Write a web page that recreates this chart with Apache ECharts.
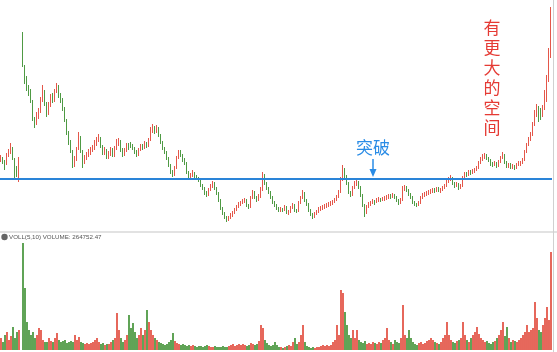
<!DOCTYPE html>
<html><head><meta charset="utf-8">
<script src="https://cdn.jsdelivr.net/npm/echarts@6/dist/echarts.min.js"></script>
<style>html,body{margin:0;padding:0;background:#fff}#c{width:557px;height:352px}</style>
</head><body><div id="c"></div>
<script>
const opens = [9.0,9.2,8.9,8.6,9.4,9.9,10.1,9.1,8.0,7.6,null,
19.3,18.4,17.0,16.0,15.9,14.8,13.0,12.7,13.4,13.9,
15.1,15.8,14.5,13.7,14.6,15.4,15.0,15.9,16.3,15.5,
15.0,14.1,12.9,11.7,10.9,9.9,8.6,9.1,10.1,11.2,
9.9,8.8,9.1,9.6,9.7,10.1,10.2,10.6,11.0,11.1,
10.3,9.8,10.0,9.3,9.5,10.1,9.5,10.1,10.6,10.9,
10.0,9.6,9.9,10.5,10.6,10.4,10.2,9.8,9.5,10.0,
10.4,10.2,10.7,10.4,11.0,11.9,12.2,11.8,12.2,11.5,
10.8,10.2,9.8,9.2,8.5,7.8,7.5,8.2,9.2,9.8,
9.5,9.0,8.7,7.8,7.2,7.4,7.7,7.4,7.2,7.0,
6.5,6.2,5.7,5.5,6.0,6.4,6.7,6.2,5.7,5.0,
4.2,3.7,3.3,3.0,3.2,3.5,3.7,4.0,4.3,4.6,
4.7,4.9,5.0,4.5,4.3,5.2,5.8,5.3,5.0,5.3,
6.0,7.4,6.7,6.2,5.8,5.3,4.8,4.5,4.2,4.0,
4.1,4.0,4.3,3.7,3.8,4.2,4.5,4.0,3.9,4.7,
5.2,5.7,5.0,4.6,4.0,3.6,3.3,3.6,3.8,4.1,
4.2,4.3,4.4,4.5,4.6,4.7,4.8,5.0,5.3,5.8,
7.0,8.0,7.4,6.7,5.8,5.5,6.2,6.7,6.8,6.3,
5.5,4.5,3.7,4.3,4.6,4.7,4.9,4.8,5.0,5.1,
5.0,5.1,5.2,5.3,5.4,5.3,5.5,5.3,5.0,4.7,
5.0,6.2,6.3,6.0,5.6,5.3,4.8,4.6,4.5,4.7,
5.2,5.5,5.6,5.7,5.8,5.9,6.0,5.9,6.1,5.9,
6.0,6.2,6.4,6.8,7.0,7.2,6.7,6.4,6.6,6.2,
6.4,7.2,7.6,7.5,7.8,7.7,7.9,8.0,8.2,8.7,
9.1,9.3,9.4,9.2,9.0,8.6,8.5,8.7,8.4,8.8,
9.2,9.5,8.8,8.4,8.5,8.3,8.4,8.2,8.5,8.6,
8.7,9.0,9.8,10.5,11.0,11.5,12.5,13.6,14.2,13.7,
13.5,14.2,15.0,17.0,19.5];
const closes = [9.2,8.8,8.5,9.5,9.8,10.2,9.2,8.0,7.8,9.0,null,
18.6,17.2,16.2,15.8,15.0,13.2,12.6,13.5,13.8,15.0,
16.0,14.7,13.6,14.5,15.3,15.0,15.8,16.4,15.4,15.0,
14.2,13.0,11.8,10.8,10.0,8.7,9.0,10.0,11.3,10.0,
8.7,9.2,9.5,9.8,10.0,10.2,10.7,11.0,11.2,10.4,
9.7,10.0,9.3,9.6,10.0,9.5,10.2,10.7,10.8,10.0,
9.5,10.0,10.5,10.2,10.4,10.2,9.8,9.5,10.0,10.4,
10.2,10.7,10.4,11.0,12.0,12.2,11.8,12.2,11.5,10.8,
10.2,9.8,9.2,8.5,7.8,7.5,8.2,9.2,9.8,9.5,
9.0,8.7,7.8,7.2,7.4,7.7,7.4,7.2,7.0,6.5,
6.2,5.7,5.5,6.0,6.4,6.7,6.2,5.7,5.0,4.2,
3.7,3.3,3.0,3.2,3.5,3.7,4.0,4.3,4.6,4.7,
4.9,5.0,4.5,4.3,5.2,5.8,5.3,5.0,5.3,6.0,
7.5,6.7,6.2,5.8,5.3,4.8,4.5,4.2,4.0,4.1,
4.0,4.3,3.8,3.8,4.2,4.5,4.0,3.9,4.7,5.2,
5.7,5.0,4.6,4.0,3.6,3.3,3.6,3.8,4.1,4.2,
4.3,4.4,4.5,4.6,4.7,4.8,5.0,5.3,5.8,7.0,
8.0,7.4,6.7,5.8,5.5,6.2,6.7,6.8,6.3,5.5,
4.5,3.7,4.3,4.6,4.7,4.9,4.8,5.0,5.1,5.0,
5.1,5.2,5.3,5.4,5.3,5.5,5.3,5.0,4.7,5.0,
6.2,6.3,6.0,5.6,5.3,4.8,4.6,4.5,4.7,5.2,
5.5,5.6,5.7,5.8,5.9,6.0,5.9,6.1,6.0,6.0,
6.2,6.4,6.8,7.0,7.2,6.7,6.4,6.6,6.2,6.4,
7.2,7.6,7.5,7.8,7.7,7.9,8.0,8.2,8.7,9.1,
9.3,9.4,9.2,9.0,8.6,8.5,8.7,8.4,8.8,9.2,
9.5,8.8,8.4,8.5,8.3,8.4,8.2,8.5,8.7,8.7,
9.0,9.8,10.5,11.0,11.5,12.5,13.5,14.2,13.7,13.5,
14.2,15.0,17.0,19.5,22.3];
const lows = [8.8,8.6,8.0,8.5,9.3,9.6,9.0,7.0,7.3,6.8,null,
18.3,16.6,15.9,15.4,14.7,12.9,12.2,12.5,13.1,13.7,
14.8,14.4,13.3,13.5,14.3,14.7,14.8,15.7,15.2,14.7,
13.9,12.8,11.5,10.5,9.7,8.2,8.3,8.9,10.0,9.7,
8.2,8.6,9.0,9.3,9.5,9.8,10.0,10.4,10.8,10.2,
9.5,9.5,9.1,9.1,9.4,9.3,9.3,10.0,10.4,9.8,
9.3,9.4,9.8,10.0,10.2,10.0,9.6,9.3,9.4,9.9,
10.0,10.1,10.2,10.3,10.9,11.7,11.6,11.7,11.3,10.6,
10.0,9.6,9.0,8.3,7.6,7.3,7.4,8.1,9.1,9.3,
8.8,8.5,7.6,7.0,7.0,7.3,7.2,7.0,6.8,6.3,
6.0,5.5,5.3,5.4,5.9,6.2,6.0,5.5,4.8,4.0,
3.5,3.1,2.8,2.9,3.1,3.3,3.6,3.9,4.2,4.4,
4.6,4.7,4.3,4.1,4.2,5.1,5.1,4.8,4.9,5.2,
5.9,6.5,6.0,5.6,5.1,4.6,4.3,4.0,3.8,3.8,
3.8,3.9,3.6,3.5,3.7,4.1,3.8,3.7,3.8,4.6,
5.1,4.8,4.4,3.8,3.4,3.1,3.2,3.5,3.7,3.9,
4.0,4.1,4.2,4.3,4.4,4.5,4.7,4.9,5.2,5.7,
6.9,7.2,6.5,5.6,5.3,5.4,6.1,6.4,6.1,5.3,
4.3,3.3,3.6,4.2,4.4,4.6,4.5,4.7,4.8,4.8,
4.9,4.9,5.0,5.1,5.1,5.2,5.1,4.8,4.5,4.6,
4.9,5.9,5.8,5.4,5.1,4.6,4.4,4.3,4.4,4.6,
5.1,5.3,5.4,5.5,5.6,5.7,5.7,5.8,5.8,5.7,
5.9,6.1,6.3,6.7,6.9,6.5,6.2,6.3,6.0,6.1,
6.3,7.1,7.3,7.4,7.5,7.6,7.7,7.9,8.1,8.6,
8.9,9.1,9.0,8.8,8.4,8.3,8.4,8.2,8.3,8.7,
9.1,8.6,8.2,8.2,8.1,8.1,8.0,8.1,8.4,8.4,
8.6,8.9,9.7,10.4,10.9,11.4,12.4,13.3,12.8,13.0,
13.3,14.0,14.8,16.8,19.2];
const highs = [9.5,9.3,9.0,9.7,10.1,10.7,10.3,9.2,8.4,9.3,null,
21.8,18.5,17.4,16.5,16.1,15.0,13.3,13.8,14.2,15.3,
16.5,16.0,14.8,14.8,15.6,15.7,16.1,16.7,16.5,15.7,
15.2,14.3,13.1,11.9,11.0,10.0,9.4,10.3,11.8,11.4,
10.0,9.5,9.8,10.1,10.3,10.5,11.0,11.3,11.6,11.3,
10.5,10.3,10.1,9.9,10.3,10.2,10.4,11.1,11.2,11.0,
10.2,10.2,10.7,10.7,10.8,10.6,10.3,10.0,10.2,10.6,
10.6,10.9,10.8,11.2,12.3,12.6,12.4,12.5,12.3,11.6,
10.9,10.3,9.9,9.3,8.6,8.0,8.4,9.4,10.0,10.0,
9.6,9.2,8.8,7.9,7.7,8.0,7.8,7.5,7.3,7.1,
6.6,6.3,5.9,6.2,6.6,6.9,6.8,6.3,5.8,5.1,
4.3,3.8,3.4,3.4,3.7,3.9,4.2,4.5,4.8,4.9,
5.1,5.2,5.1,4.6,5.4,6.0,5.9,5.4,5.6,6.3,
7.8,7.6,6.8,6.3,5.9,5.4,4.9,4.6,4.3,4.3,
4.2,4.5,4.4,4.0,4.4,4.7,4.6,4.1,4.9,5.4,
6.0,5.8,5.1,4.7,4.1,3.7,3.8,4.0,4.3,4.4,
4.5,4.6,4.7,4.8,4.9,5.0,5.2,5.5,6.0,7.3,
8.5,8.2,7.5,6.8,5.9,6.4,6.9,7.2,6.9,6.4,
5.6,4.6,4.5,4.8,4.9,5.1,5.0,5.2,5.3,5.2,
5.3,5.4,5.5,5.6,5.6,5.7,5.6,5.4,5.1,5.2,
6.4,6.5,6.4,6.1,5.7,5.4,4.9,4.7,4.9,5.4,
5.7,5.8,5.9,6.0,6.1,6.2,6.2,6.3,6.3,6.2,
6.4,6.6,7.0,7.3,7.5,7.3,6.8,6.8,6.7,6.6,
7.4,7.8,7.8,8.0,8.0,8.1,8.2,8.4,8.9,9.3,
9.6,9.7,9.6,9.3,9.1,8.8,8.9,8.8,9.0,9.4,
9.8,9.6,8.9,8.7,8.7,8.6,8.5,8.7,8.9,8.9,
9.2,10.0,10.7,11.3,11.8,12.8,14.0,14.6,14.4,14.2,
14.5,16.0,17.5,20.2,24.3];
const volumes = [12,8,15,18,10,14,23,12,18,20,null,
107,62,28,20,15,18,12,15,22,20,
10,8,8,12,9,8,12,17,10,8,
9,10,7,8,9,8,15,10,13,8,
7,6,7,6,7,8,10,12,8,6,
7,5,6,6,8,10,12,37,20,12,
8,10,15,35,22,27,18,12,15,22,
15,20,40,28,20,15,12,10,8,7,
6,5,6,8,10,17,9,7,6,5,
6,5,4,5,4,5,4,3,4,4,
3,4,5,4,3,3,4,3,3,3,
4,3,3,4,5,6,4,5,6,5,
6,5,4,5,7,6,5,6,9,25,
22,10,7,5,4,5,8,5,3,3,
2,3,4,5,4,8,12,6,8,15,
25,8,4,3,2,3,2,3,3,4,
5,4,5,4,5,8,10,25,15,60,
57,38,25,15,12,20,12,20,10,8,
7,9,6,7,6,8,7,6,8,7,
10,12,22,10,8,6,10,8,7,12,
45,15,12,20,12,8,6,5,7,8,
6,7,9,10,12,10,8,7,6,8,
12,15,28,15,10,8,7,9,10,12,
28,15,10,8,12,15,18,23,16,12,
10,8,9,7,6,8,9,12,15,20,
28,14,23,12,8,10,9,8,10,12,
15,18,25,18,20,22,48,32,20,18,
25,32,43,30,98];
const breakLevel = 7.1;
const volumeLabel = 'VOLL(5,10) VOLUME: 264752.47';
const noteBreak = '突破';
const noteSpace = ['有','更','大','的','空','间'];

const UP = '#e4574a', DOWN = '#4f9a44';
const categories = closes.map((_, i) => 'D' + i);
const kData = closes.map((c, i) => c == null ? '-' : [opens[i], c, lows[i], highs[i]]);
const vData = volumes.map((v, i) => v == null ? '-' : {
  value: v, itemStyle: { color: closes[i] >= opens[i] ? UP : DOWN }
});

const chart = echarts.init(document.getElementById('c'), null, { renderer: 'canvas' });
chart.setOption({
  animation: false,
  backgroundColor: '#ffffff',
  grid: [
    { left: 0, top: 0, width: 552, height: 230 },
    { left: 0, top: 243, width: 552, height: 107 }
  ],
  xAxis: [
    { type: 'category', data: categories, gridIndex: 0, show: false, boundaryGap: true },
    { type: 'category', data: categories, gridIndex: 1, show: false, boundaryGap: true }
  ],
  yAxis: [
    { type: 'value', gridIndex: 0, min: 2, max: 25, show: false, splitLine: { show: false } },
    { type: 'value', gridIndex: 1, min: 0, max: 107, show: false, splitLine: { show: false } }
  ],
  series: [
    {
      type: 'candlestick', xAxisIndex: 0, yAxisIndex: 0, data: kData, barWidth: 1.2,
      itemStyle: { color: UP, color0: DOWN, borderColor: UP, borderColor0: DOWN, borderWidth: 1 },
      markLine: {
        silent: true, symbol: ['none', 'none'], label: { show: false },
        lineStyle: { color: '#2a84d8', width: 2, type: 'solid' },
        data: [{ yAxis: breakLevel }]
      }
    },
    {
      type: 'bar', xAxisIndex: 1, yAxisIndex: 1, data: vData, barWidth: 1.8
    }
  ],
  graphic: [
    { type: 'rect', shape: { x: 0, y: 231, width: 557, height: 2 }, style: { fill: '#e2e2e2' }, silent: true },
    { type: 'line', shape: { x1: 553.5, y1: 0, x2: 553.5, y2: 352 }, style: { stroke: '#d0d0d0', lineWidth: 1 }, silent: true },
    { type: 'circle', shape: { cx: 4.5, cy: 237, r: 3.2 }, style: { fill: '#666' }, silent: true },
    { type: 'text', x: 9, y: 237, style: { text: volumeLabel, fontSize: 6.2, fill: '#555', fontFamily: 'Liberation Sans, Arial', textVerticalAlign: 'middle' }, silent: true },
    { type: 'text', x: 373, y: 148, style: { text: noteBreak, fontSize: 17, fill: '#2a8ce6', fontFamily: 'Noto Sans CJK SC', textAlign: 'center', textVerticalAlign: 'middle' }, silent: true },
    { type: 'line', shape: { x1: 373, y1: 159, x2: 373, y2: 171 }, style: { stroke: '#2a8ce6', lineWidth: 1.5 }, silent: true },
    { type: 'polygon', shape: { points: [[369.5, 169], [376.5, 169], [373, 177]] }, style: { fill: '#2a8ce6' }, silent: true },
    { type: 'text', x: 492, y: 18, style: { text: noteSpace.join('\n'), fontSize: 17, lineHeight: 20, fill: '#e53a34', fontFamily: 'Noto Sans CJK SC', textAlign: 'center', textVerticalAlign: 'top' }, silent: true }
  ]
});
</script>
</body></html>
